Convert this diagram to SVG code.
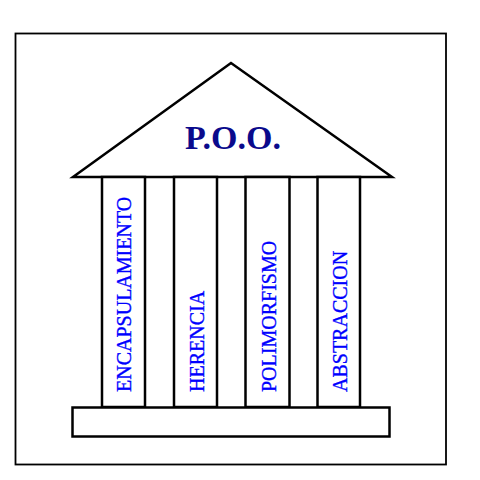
<svg xmlns="http://www.w3.org/2000/svg" width="480" height="480" viewBox="0 0 480 480">
<style>
.ln{fill:#fff;stroke:#000;stroke-width:2.5}
.pl{font-family:"Liberation Serif","Times New Roman",serif;font-size:20px;fill:#0000ff;stroke:#0000ff;stroke-width:0.35}
.tt{font-family:"Liberation Serif","Times New Roman",serif;font-size:34px;font-weight:bold;fill:#0a0a8c}
</style>
<rect width="480" height="480" fill="#fff"/>
<g id="frame"><rect x="15.5" y="33.5" width="430.5" height="431" fill="none" stroke="#000" stroke-width="1.8"/></g>
<g id="roof">
<polygon class="ln" points="231,63 73,177 392,177" stroke-width="3" stroke-linejoin="miter"/>
<text class="tt" x="233" y="149" text-anchor="middle">P.O.O.</text>
</g>
<g id="col1"><rect class="ln" x="102" y="177" width="43" height="230"/>
<text class="pl" transform="translate(131,392) rotate(-90)">ENCAPSULAMIENTO</text></g>
<g id="col2"><rect class="ln" x="174" y="177" width="43" height="230"/>
<text class="pl" transform="translate(204,392) rotate(-90)">HERENCIA</text></g>
<g id="col3"><rect class="ln" x="245.5" y="177" width="44" height="230"/>
<text class="pl" transform="translate(275.5,392) rotate(-90)">POLIMORFISMO</text></g>
<g id="col4"><rect class="ln" x="317.5" y="177" width="42.5" height="230"/>
<text class="pl" transform="translate(347,392) rotate(-90)">ABSTRACCION</text></g>
<g id="base"><rect class="ln" x="72.5" y="407.5" width="317" height="29"/></g>
<g id="connectors"></g>
</svg>
